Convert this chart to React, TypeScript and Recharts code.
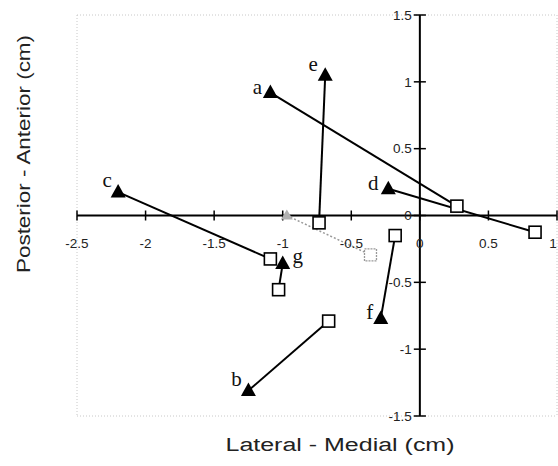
import { ScatterChart, Scatter, XAxis, YAxis, CartesianGrid, ReferenceLine } from 'recharts';

// subjects a-g: triangle = start, square = end
const names = ['a', 'b', 'c', 'd', 'e', 'f', 'g'];
const startX = [-1.09, -1.25, -2.2, -0.23, -0.69, -0.285, -1.0];
const startY = [0.92, -1.31, 0.175, 0.2, 1.05, -0.77, -0.36];
const endX = [0.27, -0.665, -1.09, 0.84, -0.735, -0.18, -1.03];
const endY = [0.07, -0.79, -0.325, -0.125, -0.055, -0.15, -0.555];

// unlabeled grey pair
const greyX = [-0.97, -0.36];
const greyY = [0.0, -0.295];

const xTicks = [-2.5, -2, -1.5, -1, -0.5, 0, 0.5, 1];
const yTicks = [-1.5, -1, -0.5, 0, 0.5, 1, 1.5];

// label offsets (px) of each letter from its triangle
const labelOffset: Record<string, [number, number]> = {
    a: [-13, 1],
    b: [-12, -5],
    c: [-11, -5],
    d: [-15, 1],
    e: [-12, -4],
    f: [-11, 1],
    g: [15, -1],
};

const W = 558;
const H = 466;
const TICK_DX = 0.044; // ~6px
const TICK_DY = 0.0374; // ~5px
const sans = '"Liberation Sans", Arial, sans-serif';

const pairs = names.map((n, i) => [
    { x: startX[i], y: startY[i], name: n },
    { x: endX[i], y: endY[i], name: n },
]);
const triangles = names.map((n, i) => ({ x: startX[i], y: startY[i], name: n }));
const squares = names.map((n, i) => ({ x: endX[i], y: endY[i], name: n }));
const greyLine = greyX.map((x, i) => ({ x, y: greyY[i] }));

const NoDot = () => <g />;

const Triangle = (props: any) => {
    const { cx, cy, payload } = props;
    const [dx, dy] = labelOffset[payload.name] || [0, 0];
    return (
        <g>
            <polygon points={`${cx},${cy - 8} ${cx + 7.5},${cy + 5.5} ${cx - 7.5},${cy + 5.5}`} fill="#000" />
            <text x={cx + dx} y={cy + dy} textAnchor="middle" fontFamily='"Liberation Serif", "Times New Roman", serif' fontSize={21} fill="#111">
                {payload.name}
            </text>
        </g>
    );
};

const Square = (props: any) => (
    <rect x={props.cx - 6} y={props.cy - 6} width={12} height={12} fill="#fff" stroke="#000" strokeWidth={1.6} />
);

const GreyTriangle = (props: any) => (
    <polygon points={`${props.cx},${props.cy - 6} ${props.cx + 6},${props.cy + 4} ${props.cx - 6},${props.cy + 4}`} fill="#b0b0b0" />
);

const GreySquare = (props: any) => (
    <rect x={props.cx - 6} y={props.cy - 6} width={12} height={12} fill="#fff" stroke="#999" strokeWidth={1.3} strokeDasharray="2 1" />
);

export default function App() {
    return (
        <div style={{ position: 'absolute', left: 0, top: 0, width: W, height: H, background: '#fff' }}>
            <ScatterChart width={W} height={H} margin={{ top: 15, right: 1, bottom: 50, left: 77 }}>
                <CartesianGrid stroke="#c8c8c8" strokeDasharray="1 2" />
                <XAxis type="number" dataKey="x" domain={[-2.5, 1]} ticks={xTicks} height={0} tick={false} axisLine={false} tickLine={false} allowDataOverflow />
                <YAxis type="number" dataKey="y" domain={[-1.5, 1.5]} ticks={yTicks} width={0} tick={false} axisLine={false} tickLine={false} allowDataOverflow />

                <ReferenceLine y={0} stroke="#000" strokeWidth={2} />
                <ReferenceLine x={0} stroke="#000" strokeWidth={2} />
                {xTicks.map((v) => (
                    <ReferenceLine
                        key={'xt' + v}
                        segment={[{ x: v, y: -TICK_DY }, { x: v, y: TICK_DY }]}
                        stroke="#000"
                        strokeWidth={1.5}
                        label={{ value: String(v), position: 'bottom', offset: 18, fill: '#222', fontSize: 13.5, fontFamily: sans, dx: v === 1 ? -4 : 0 }}
                    />
                ))}
                {yTicks.map((v) => (
                    <ReferenceLine
                        key={'yt' + v}
                        segment={[{ x: -TICK_DX, y: v }, { x: TICK_DX, y: v }]}
                        stroke="#000"
                        strokeWidth={1.5}
                        label={{ value: String(v), position: 'left', offset: 2, fill: '#222', fontSize: 13.5, fontFamily: sans }}
                    />
                ))}

                <Scatter data={greyLine} line={{ stroke: '#999', strokeWidth: 1.5, strokeDasharray: '2 2' }} shape={NoDot} isAnimationActive={false} />
                {pairs.map((p, i) => (
                    <Scatter key={names[i]} data={p} line={{ stroke: '#000', strokeWidth: 2 }} shape={NoDot} isAnimationActive={false} />
                ))}
                <Scatter data={[greyLine[0]]} shape={GreyTriangle} isAnimationActive={false} />
                <Scatter data={[greyLine[1]]} shape={GreySquare} isAnimationActive={false} />
                <Scatter data={squares} shape={Square} isAnimationActive={false} />
                <Scatter data={triangles} shape={Triangle} isAnimationActive={false} />
            </ScatterChart>
            <svg width={W} height={H} style={{ position: 'absolute', left: 0, top: 0, pointerEvents: 'none' }}>
                <text x={340} y={451} textAnchor="middle" fontFamily={sans} fontSize={18} fill="#222" textLength={229} lengthAdjust="spacingAndGlyphs">
                    Lateral - Medial (cm)
                </text>
                <text x={30} y={154} transform="rotate(-90 30 154)" textAnchor="middle" fontFamily={sans} fontSize={18} fill="#222" textLength={238} lengthAdjust="spacingAndGlyphs">
                    Posterior - Anterior (cm)
                </text>
            </svg>
        </div>
    );
}
